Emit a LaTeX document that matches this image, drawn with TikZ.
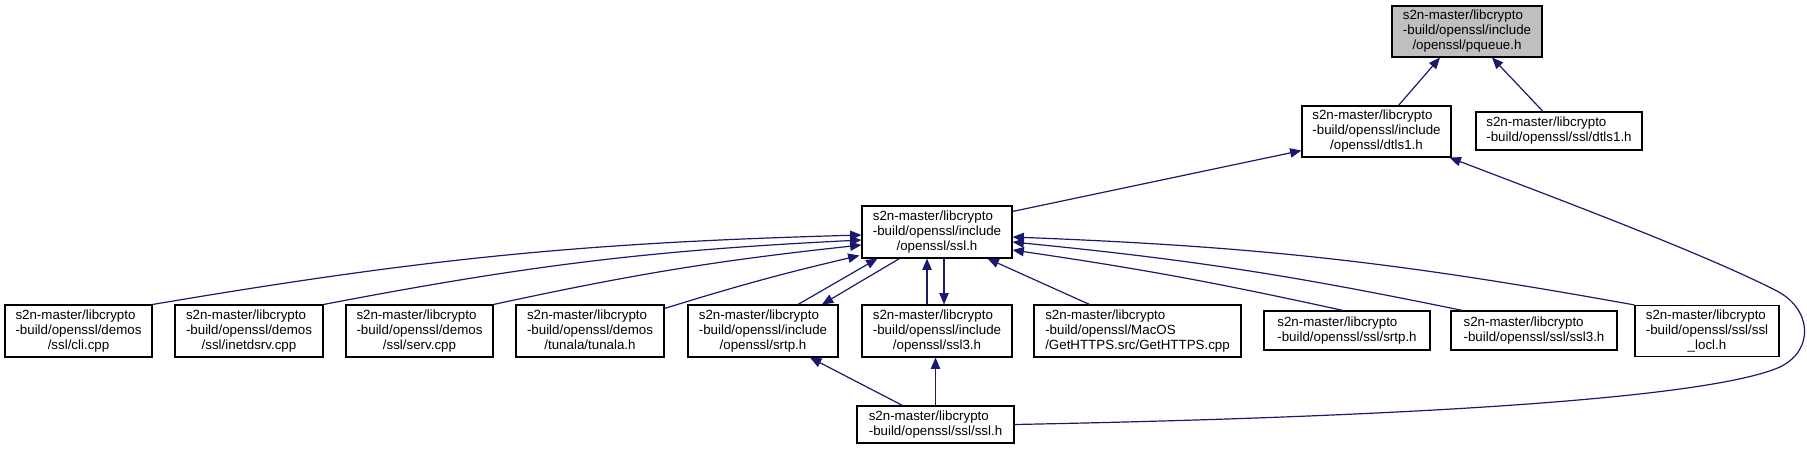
\documentclass[tikz,border=0pt]{standalone}
\usepackage{fontspec}
\setmainfont{Liberation Sans}
\usepackage{tikz}
\usetikzlibrary{arrows.meta,calc}

\definecolor{edgeblue}{HTML}{191970}
\definecolor{nodegray}{HTML}{BFBFBF}

% all lines left, last line centred
\newcommand{\flabel}[2]{\begin{tabular}{@{}l@{}}#1\\\multicolumn{1}{@{}c@{}}{#2}\end{tabular}}

\tikzset{
  filebox/.style={draw=black, line width=0.8pt, fill=white, inner sep=0pt,
    font=\fontsize{10}{11.25}\selectfont},
  boxsize/.style 2 args={minimum width=#1*0.75pt, minimum height=#2*0.75pt},
  incl/.style={draw=edgeblue, line width=0.9pt, -{Triangle[length=8.5pt,width=7pt]}},
}

\begin{document}
\begin{tikzpicture}[x=0.75pt, y=-0.75pt]
  \useasboundingbox (0,0) rectangle (1807,449);

  % Top of the graph
  \node[filebox, boxsize={150}{51}, fill=nodegray] (pqueue) at (1467,31.5)
    {\flabel{s2n-master/libcrypto\\-build/openssl/include}{/openssl/pqueue.h}};
  \node[filebox, boxsize={149}{51}] (dtlsinc) at (1376.5,131.5)
    {\flabel{s2n-master/libcrypto\\-build/openssl/include}{/openssl/dtls1.h}};
  \node[filebox, boxsize={166}{38}] (dtlsssl) at (1559,131)
    {\flabel{s2n-master/libcrypto}{-build/openssl/ssl/dtls1.h}};
  \node[filebox, boxsize={150}{52}] (sslinc) at (937,232)
    {\flabel{s2n-master/libcrypto\\-build/openssl/include}{/openssl/ssl.h}};

  % Row of files that include ssl.h
  \node[filebox, boxsize={147}{52}] (cli) at (78.5,331)
    {\flabel{s2n-master/libcrypto\\-build/openssl/demos}{/ssl/cli.cpp}};
  \node[filebox, boxsize={148}{52}] (inetd) at (249,331)
    {\flabel{s2n-master/libcrypto\\-build/openssl/demos}{/ssl/inetdsrv.cpp}};
  \node[filebox, boxsize={147}{52}] (serv) at (419.5,331)
    {\flabel{s2n-master/libcrypto\\-build/openssl/demos}{/ssl/serv.cpp}};
  \node[filebox, boxsize={148}{52}] (tunala) at (590,331)
    {\flabel{s2n-master/libcrypto\\-build/openssl/demos}{/tunala/tunala.h}};
  \node[filebox, boxsize={150}{52}] (srtpinc) at (763,331)
    {\flabel{s2n-master/libcrypto\\-build/openssl/include}{/openssl/srtp.h}};
  \node[filebox, boxsize={150}{52}] (sslthreeinc) at (937,331)
    {\flabel{s2n-master/libcrypto\\-build/openssl/include}{/openssl/ssl3.h}};
  \node[filebox, boxsize={207}{52}] (gethttps) at (1137.5,331)
    {\flabel{s2n-master/libcrypto\\-build/openssl/MacOS}{/GetHTTPS.src/GetHTTPS.cpp}};
  \node[filebox, boxsize={166}{39}] (srtpssl) at (1347,330.5)
    {\flabel{s2n-master/libcrypto}{-build/openssl/ssl/srtp.h}};
  \node[filebox, boxsize={166}{39}] (sslthreessl) at (1534,330.5)
    {\flabel{s2n-master/libcrypto}{-build/openssl/ssl/ssl3.h}};
  \node[filebox, boxsize={144}{51}] (locl) at (1707,331)
    {\flabel{s2n-master/libcrypto\\-build/openssl/ssl/ssl}{\_locl.h}};

  % Bottom
  \node[filebox, boxsize={157}{37}] (sslssl) at (935.5,424.5)
    {\flabel{s2n-master/libcrypto}{-build/openssl/ssl/ssl.h}};

  % Edges to pqueue.h and dtls1.h
  \draw[incl] ($(dtlsinc.north)+(22,0)$) -- ($(pqueue.south)+(-27,0)$);
  \draw[incl] ($(dtlsssl.north)+(-16,0)$) -- ($(pqueue.south)+(25,0)$);
  \draw[incl] ($(sslinc.north east)+(0,6)$) -- ($(dtlsinc.south west)+(0,-7)$);
  \draw[incl] (sslssl.east) .. controls (1350,418) and (1700,402) .. (1780,367)
    .. controls (1815,350) and (1812,308) .. (1775,290)
    .. controls (1700,252) and (1550,196) .. ($(dtlsinc.south east)+(-2,0)$);

  % Edges to ssl.h from the left
  \draw[incl] (cli.north east) to[bend left=4] ($(sslinc.west)+(0,3)$);
  \draw[incl] (inetd.north east) to[bend left=4] ($(sslinc.west)+(0,8)$);
  \draw[incl] (serv.north east) to[bend left=3] ($(sslinc.west)+(0,13)$);
  \draw[incl] ($(tunala.north east)+(0,4)$) to[bend left=2] ($(sslinc.south west)+(-2,-3)$);
  \draw[incl] ($(srtpinc.north)+(35,0)$) -- ($(sslinc.south west)+(16,0)$);
  \draw[incl] ($(sslinc.south west)+(38,0)$) -- ($(srtpinc.north)+(59,0)$);
  \draw[incl] ($(sslthreeinc.north)+(-10,0)$) -- ($(sslinc.south)+(-10,0)$);
  \draw[incl] ($(sslinc.south)+(7,0)$) -- ($(sslthreeinc.north)+(7,0)$);

  % Edges to ssl.h from the right
  \draw[incl] ($(gethttps.north)+(-48,0)$) -- ($(sslinc.south east)+(-25,0)$);
  \draw[incl] ($(srtpssl.north)+(-4,0)$) to[bend right=2] ($(sslinc.east)+(0,18)$);
  \draw[incl] ($(sslthreessl.north west)+(12,0)$) to[bend right=3] ($(sslinc.east)+(0,10)$);
  \draw[incl] (locl.north west) to[bend right=4] ($(sslinc.east)+(0,5)$);

  % Edges from the bottom ssl.h
  \draw[incl] ($(sslssl.north)+(-33,0)$) -- ($(srtpinc.south)+(47,0)$);
  \draw[incl] (sslssl.north) -- (sslssl.north |- sslthreeinc.south);
\end{tikzpicture}
\end{document}
